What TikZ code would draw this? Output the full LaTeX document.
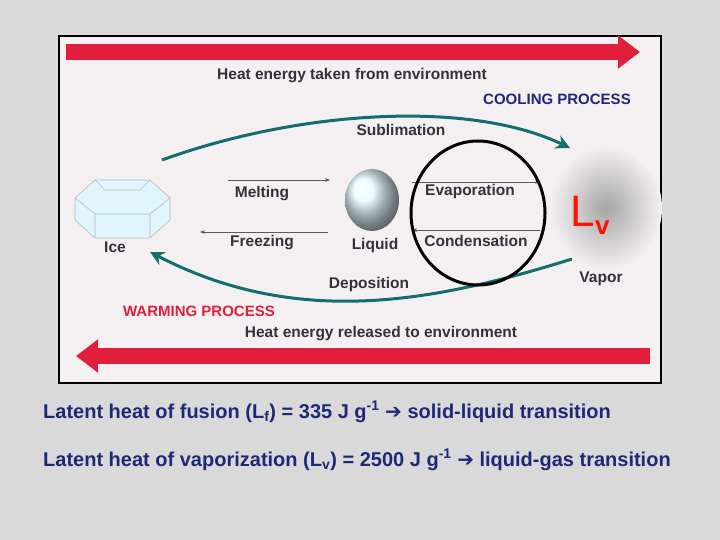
\documentclass[tikz,border=0pt]{standalone}
\usepackage{fontspec}
\setmainfont{Liberation Sans}
\newfontfamily\dejavu{DejaVu Sans}
\usetikzlibrary{arrows.meta,shapes.geometric}
\definecolor{bg}{RGB}{217,217,217}
\definecolor{photo}{RGB}{244,240,242}
\definecolor{redarr}{RGB}{225,30,60}
\definecolor{teal}{RGB}{20,110,110}
\definecolor{navy}{RGB}{30,40,120}
\definecolor{lbl}{RGB}{50,50,60}
\tikzset{
 lab/.style={font=\bfseries\fontsize{15.5}{17}\selectfont,text=lbl,inner sep=0},
 thin arr/.style={draw=gray!70!black,line width=0.7pt,-{Stealth[length=5pt]}},
 curve arr/.style={draw=teal,line width=3pt,-{Stealth[length=14pt,width=14pt]}},
 big arr/.style={draw=redarr,line width=16pt,-{Triangle[length=22pt,width=32pt]}},
 caption/.style={font=\bfseries\fontsize{20}{22}\selectfont,text=navy,anchor=west,inner sep=0}
}
\newcommand{\barrow}{{\dejavu\bfseries ➔}}
\begin{document}
\begin{tikzpicture}[x=1pt,y=-1pt]
\fill[bg] (0,0) rectangle (720,540);
\useasboundingbox (0,0) rectangle (720,540);
\filldraw[fill=photo,draw=black,line width=2.5pt] (59,36) rectangle (661,383);
% red arrows
\coordinate (t1) at (66,52); \coordinate (t2) at (640,52);
\draw[big arr] (t1) -- (t2);
\coordinate (b1) at (650,356); \coordinate (b2) at (76,356);
\draw[big arr] (b1) -- (b2);
% vapor cloud
\shade[inner color=gray!70,outer color=photo] (606,208) ellipse (56 and 62);
% ice
\node[lab] (ice) at (115,247) {Ice};
\filldraw[fill=cyan!12,draw=gray!55,line width=0.6pt] (75,198)--(95,180)--(150,180)--(170,198)--(170,220)--(150,238)--(95,238)--(75,220)--cycle;
\draw[gray!55,line width=0.6pt] (75,198)--(95,214)--(150,214)--(170,198) (95,214)--(95,238) (150,214)--(150,238) (95,180)--(105,190)--(140,190)--(150,180);
% liquid
\shade[ball color=blue!18!cyan!10!white] (372,200) ellipse (27 and 31);
\node[lab] (liq) at (375,245) {Liquid};
% labels
\node[lab] (heatin) at (352,76) {Heat energy taken from environment};
\node[font=\bfseries\fontsize{15}{17}\selectfont,text=navy,inner sep=0] (cool) at (557,99) {COOLING PROCESS};
\node[lab] (sub) at (401,130) {Sublimation};
\node[lab] (melt) at (262,194) {Melting};
\node[lab] (frz) at (262,243) {Freezing};
\node[lab] (evap) at (470,191) {Evaporation};
\node[lab] (cond) at (476,241) {Condensation};
\node[lab] (vap) at (601,279) {Vapor};
\node[lab] (dep) at (369,284) {Deposition};
\node[font=\bfseries\fontsize{15}{17}\selectfont,text=redarr,inner sep=0] (warm) at (199,311) {WARMING PROCESS};
\node[lab] (heatout) at (381,334) {Heat energy released to environment};
\node[text=red!85!orange,font=\fontsize{44}{44}\selectfont,inner sep=0] (lv) at (590,215) {L\raisebox{-8pt}{\bfseries\fontsize{26}{26}\selectfont v}};
% thin arrows
\coordinate (m1) at (228,180); \coordinate (m2) at (330,180);
\draw[thin arr] (m1) -- (m2);
\coordinate (f1) at (328,232); \coordinate (f2) at (200,232);
\draw[thin arr] (f1) -- (f2);
\coordinate (e1) at (412,182); \coordinate (e2) at (540,182);
\draw[thin arr] (e1) -- (e2);
\coordinate (c1) at (540,230); \coordinate (c2) at (412,230);
\draw[thin arr] (c1) -- (c2);
% curved arrows
\coordinate (s1) at (162,160); \coordinate (s2) at (570,148);
\draw[curve arr] (s1) .. controls (300,110) and (470,100) .. (s2);
\coordinate (d1) at (572,259); \coordinate (d2) at (150,252);
\draw[curve arr] (d1) .. controls (440,300) and (300,330) .. (d2);
% circle
\node[draw=black,line width=3pt,ellipse,minimum width=134pt,minimum height=144pt] (ring) at (478,213) {};
% captions
\node[caption] (cap1) at (43,412) {Latent heat of fusion (L\textsubscript{f}) = 335 J g\textsuperscript{-1} \barrow\ solid-liquid transition};
\node[caption] (cap2) at (43,460) {Latent heat of vaporization (L\textsubscript{v}) = 2500 J g\textsuperscript{-1} \barrow\ liquid-gas transition};
\end{tikzpicture}
\end{document}
